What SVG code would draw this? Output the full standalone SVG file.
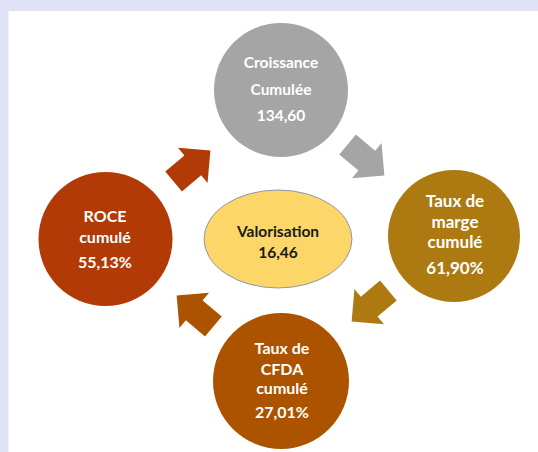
<svg xmlns="http://www.w3.org/2000/svg" width="538" height="452" viewBox="0 0 538 452">
<style>
.t{font-family:Lato,"Liberation Sans",sans-serif;font-weight:bold;fill:#ffffff;text-anchor:middle}
.d{fill:#1a1a1a}
</style>
<defs>
<path id="arr" d="M-24,-13 L1,-13 L1,-23 L24,0 L1,23 L1,13 L-24,13 Z"/>
</defs>
<rect x="0" y="0" width="538" height="452" fill="#dfe3f5"/>
<rect x="8.5" y="11" width="530" height="441" fill="#ffffff"/>
<g id="connectors">
<use href="#arr" fill="#a5a5a5" transform="translate(366,160) rotate(40)"/>
<use href="#arr" fill="#ad7a12" transform="translate(370,306) rotate(140)"/>
<use href="#arr" fill="#ac5300" transform="translate(195,311) rotate(220)"/>
<use href="#arr" fill="#b23a07" transform="translate(192,166) rotate(-40)"/>
</g>
<g id="croissance">
<circle cx="281" cy="90" r="67" fill="#a5a5a5"/>
<text class="t" x="281" y="68" font-size="15.5">Croissance</text>
<text class="t" x="281" y="95" font-size="15.5">Cumulée</text>
<text class="t" x="281" y="121" font-size="15.5">134,60</text>
</g>
<g id="marge">
<circle cx="454" cy="236" r="66" fill="#ad7a12"/>
<text class="t" x="455" y="207" font-size="17">Taux de</text>
<text class="t" x="455" y="228" font-size="17">marge</text>
<text class="t" x="455" y="248" font-size="17">cumulé</text>
<text class="t" x="455" y="274" font-size="17">61,90%</text>
</g>
<g id="cfda">
<circle cx="281" cy="381" r="68" fill="#ac5300"/>
<text class="t" x="282" y="354" font-size="16">Taux de</text>
<text class="t" x="282" y="375" font-size="16">CFDA</text>
<text class="t" x="282" y="394" font-size="16">cumulé</text>
<text class="t" x="282" y="418" font-size="16">27,01%</text>
</g>
<g id="roce">
<circle cx="105.5" cy="239" r="67" fill="#b23a07"/>
<text class="t" x="105" y="222" font-size="16">ROCE</text>
<text class="t" x="105" y="243" font-size="16">cumulé</text>
<text class="t" x="105" y="268" font-size="16">55,13%</text>
</g>
<g id="valorisation">
<ellipse cx="278" cy="239" rx="74" ry="49" fill="#fcd669" stroke="#8c97ad" stroke-width="1"/>
<text class="t d" x="278" y="237" font-size="15.5">Valorisation</text>
<text class="t d" x="278" y="258" font-size="15.5">16,46</text>
</g>
</svg>
